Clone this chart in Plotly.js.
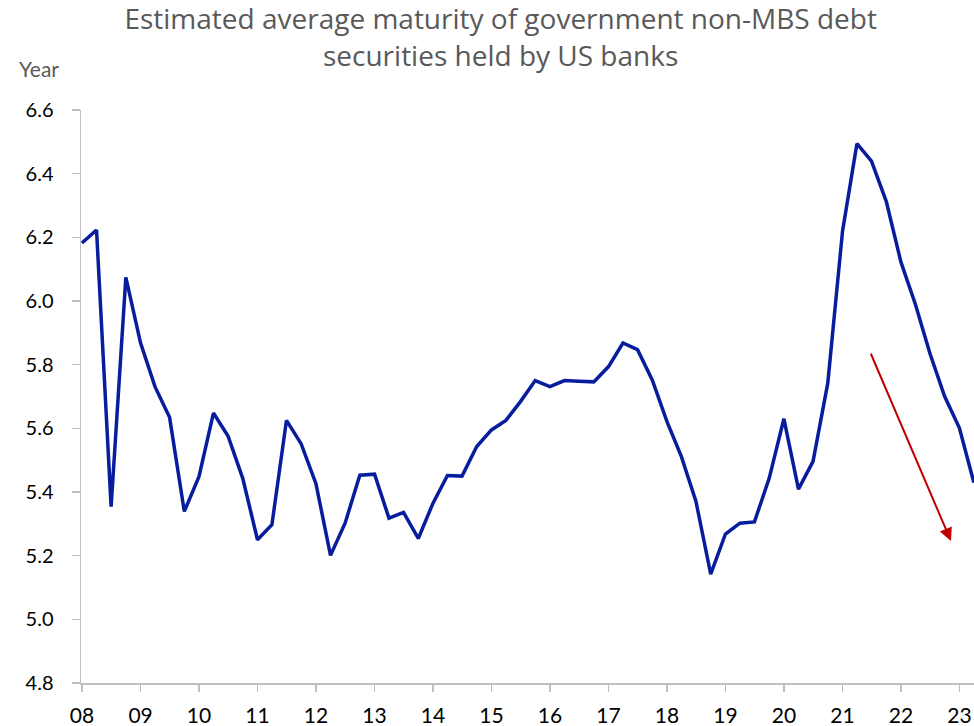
<!DOCTYPE html>
<html>
<head>
<meta charset="utf-8">
<script src="https://cdn.plot.ly/plotly-3.0.1.min.js"></script>
<style>html,body{margin:0;padding:0;background:#fff;}#chart{width:974px;height:726px;}</style>
</head>
<body>
<div id="chart"></div>
<script>
var quarters = [
 '2008-01-01','2008-04-01','2008-07-01','2008-10-01',
 '2009-01-01','2009-04-01','2009-07-01','2009-10-01',
 '2010-01-01','2010-04-01','2010-07-01','2010-10-01',
 '2011-01-01','2011-04-01','2011-07-01','2011-10-01',
 '2012-01-01','2012-04-01','2012-07-01','2012-10-01',
 '2013-01-01','2013-04-01','2013-07-01','2013-10-01',
 '2014-01-01','2014-04-01','2014-07-01','2014-10-01',
 '2015-01-01','2015-04-01','2015-07-01','2015-10-01',
 '2016-01-01','2016-04-01','2016-07-01','2016-10-01',
 '2017-01-01','2017-04-01','2017-07-01','2017-10-01',
 '2018-01-01','2018-04-01','2018-07-01','2018-10-01',
 '2019-01-01','2019-04-01','2019-07-01','2019-10-01',
 '2020-01-01','2020-04-01','2020-07-01','2020-10-01',
 '2021-01-01','2021-04-01','2021-07-01','2021-10-01',
 '2022-01-01','2022-04-01','2022-07-01','2022-10-01',
 '2023-01-01','2023-04-01'
];
var maturityYears = [
 6.182, 6.223, 5.354, 6.074,
 5.868, 5.731, 5.635, 5.339,
 5.449, 5.648, 5.576, 5.443,
 5.250, 5.297, 5.625, 5.551,
 5.426, 5.201, 5.302, 5.453,
 5.456, 5.318, 5.336, 5.254,
 5.365, 5.452, 5.450, 5.543,
 5.595, 5.625, 5.684, 5.750,
 5.731, 5.750, 5.748, 5.746,
 5.794, 5.868, 5.847, 5.752,
 5.621, 5.511, 5.370, 5.142,
 5.268, 5.302, 5.306, 5.443,
 5.630, 5.409, 5.496, 5.742,
 6.219, 6.494, 6.439, 6.313,
 6.122, 5.990, 5.835, 5.700,
 5.601, 5.430
];
var yearTickVals = ['2008-01-01','2009-01-01','2010-01-01','2011-01-01','2012-01-01','2013-01-01','2014-01-01','2015-01-01','2016-01-01','2017-01-01','2018-01-01','2019-01-01','2020-01-01','2021-01-01','2022-01-01','2023-01-01'];
var yearTickText = ['08','09','10','11','12','13','14','15','16','17','18','19','20','21','22','23'];
var yTickVals = [4.8, 5.0, 5.2, 5.4, 5.6, 5.8, 6.0, 6.2, 6.4, 6.6];
var yTickText = ['4.8','5.0','5.2','5.4','5.6','5.8','6.0','6.2','6.4','6.6'];
var titleText = 'Estimated average maturity of government non-MBS debt<br>securities held by US banks';

var FONT = 'Lato, "Open Sans", "DejaVu Sans", sans-serif';
var TITLE_FONT = '"Open Sans", Lato, sans-serif';

var trace = {
  x: quarters,
  y: maturityYears,
  type: 'scatter',
  mode: 'lines',
  line: {color: '#061D9E', width: 3.5},
  hoverinfo: 'x+y'
};

var layout = {
  width: 974,
  height: 726,
  margin: {l: 81, r: 0, t: 110, b: 43},
  paper_bgcolor: '#ffffff',
  plot_bgcolor: '#ffffff',
  showlegend: false,
  title: {
    text: titleText,
    font: {family: TITLE_FONT, size: 28, color: '#595959'},
    xref: 'container', x: 0.514, xanchor: 'center',
    yref: 'container', y: 0.9595, yanchor: 'top'
  },
  xaxis: {
    type: 'date',
    range: ['2007-12-26', '2023-04-02'],
    tickmode: 'array',
    tickvals: yearTickVals,
    ticktext: yearTickText,
    ticks: 'outside', ticklen: 7, tickwidth: 1.5, tickcolor: '#BFBFBF',
    showline: true, linecolor: '#BFBFBF', linewidth: 1.5,
    showgrid: false, zeroline: false,
    tickfont: {family: FONT, size: 21, color: '#000000'},
    ticklabelstandoff: 6
  },
  yaxis: {
    range: [4.8, 6.6],
    tickmode: 'array',
    tickvals: yTickVals,
    ticktext: yTickText,
    ticks: 'outside', ticklen: 8, tickwidth: 1.5, tickcolor: '#BFBFBF',
    showline: true, linecolor: '#BFBFBF', linewidth: 1.5,
    showgrid: false, zeroline: false,
    tickfont: {family: FONT, size: 20, color: '#000000'},
    ticklabelstandoff: 14
  },
  annotations: [
    {
      text: 'Year', showarrow: false,
      xref: 'paper', yref: 'paper', x: -0.047, y: 1.0716,
      xanchor: 'center', yanchor: 'middle',
      font: {family: FONT, size: 21, color: '#595959'}
    },
    {
      text: '', showarrow: true,
      xref: 'x', yref: 'y', axref: 'x', ayref: 'y',
      x: '2022-11-09', y: 5.246,
      ax: '2021-06-23', ay: 5.839,
      arrowcolor: '#C00000', arrowwidth: 2, arrowhead: 2, arrowsize: 1.3, standoff: 0
    }
  ]
};

Plotly.newPlot('chart', [trace], layout, {displayModeBar: false, staticPlot: true});
</script>
</body>
</html>
